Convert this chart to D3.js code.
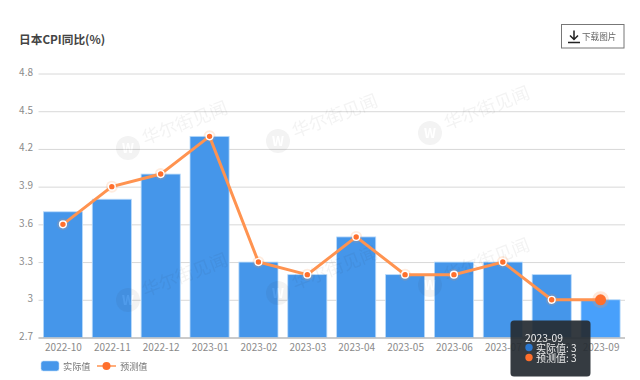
<!DOCTYPE html>
<html><head><meta charset="utf-8">
<script src="https://cdnjs.cloudflare.com/ajax/libs/d3/7.8.5/d3.min.js"></script>
<style>html,body{margin:0;padding:0;background:#fff}svg{display:block}text{font-family:"Noto Sans CJK SC","Noto Sans",sans-serif}</style>
</head><body><svg id="c" width="640" height="380"></svg>
<script>
const titleText = "日本CPI同比(%)";
const buttonText = "下载图片";
const categories = ["2022-10","2022-11","2022-12","2023-01","2023-02","2023-03","2023-04","2023-05","2023-06","2023-07","2023-08","2023-09"];
const actualValues = [3.7,3.8,4.0,4.3,3.3,3.2,3.5,3.2,3.3,3.3,3.2,3.0];
const forecastValues = [3.6,3.9,4.0,4.3,3.3,3.2,3.5,3.2,3.2,3.3,3.0,3.0];
const yTicks = [2.7,3,3.3,3.6,3.9,4.2,4.5,4.8];
const seriesNames = ["实际值","预测值"];
const watermarkSpots = [[128,148],[278,141],[430,133],[128,300],[278,293],[430,285]];

const svg = d3.select("#c");
const x = d3.scaleBand().domain(categories).range([38.5,625]).paddingInner(0.2).paddingOuter(0.1);
const xp = d3.scalePoint().domain(categories).range([38.5+24.44,625-24.44]);
const y = d3.scaleLinear().domain([2.7,4.8]).range([337.5,73.5]);
const BLUE="#4596ea", ORANGE="#ff9350", DOT="#ff6f2c";

svg.append("text").attr("x",19).attr("y",44).attr("font-size",11.7).attr("font-weight",700).attr("fill","#444").text(titleText);

// grid + y axis
const ya = svg.append("g").attr("transform","translate(38.5,0)")
  .call(d3.axisLeft(y).tickValues(yTicks).tickFormat(d3.format("~g")).tickSize(-586.5).tickPadding(6));
ya.select(".domain").remove();
ya.selectAll("line").attr("stroke","#d8d8d8").attr("stroke-width",1);
ya.selectAll("text").attr("fill","#8a8a8a").attr("font-size",10).attr("x",-5.5).attr("dy","0.2em");

// bars
const last = categories[categories.length-1];
svg.append("g").selectAll("rect").data(categories).join("rect")
  .attr("x",d=>x(d)).attr("width",x.bandwidth())
  .attr("y",(d,i)=>y(actualValues[i])).attr("height",(d,i)=>y(2.7)-y(actualValues[i]))
  .attr("fill",d=>d===last?"#48a0fb":BLUE).attr("stroke","#b9dafa").attr("stroke-width",0.8);

// x axis
const xa = svg.append("g").attr("transform","translate(0,337.5)")
  .call(d3.axisBottom(xp).tickSize(0).tickPadding(6));
xa.select(".domain").attr("stroke","#aaa").attr("d","M38.5,0.5H625");
xa.selectAll("text").attr("fill","#8a8a8a").attr("font-size",10);

// watermark
const wm = svg.append("g").attr("opacity",0.055);
watermarkSpots.forEach(([a,b])=>{
  const g = wm.append("g").attr("transform",`translate(${a},${b})`);
  g.append("circle").attr("r",12).attr("fill","#333");
  g.append("text").attr("x",0).attr("y",2).attr("text-anchor","middle").attr("font-size",13).attr("font-weight",700).attr("fill","#fff").attr("dy","0.25em").text("W");
  g.append("text").attr("transform","translate(17,-3) rotate(-21)").attr("font-size",18).attr("fill","#333").text("华尔街见闻");
});

// line
svg.append("path").datum(forecastValues)
  .attr("d",d3.line().x((d,i)=>xp(categories[i])).y(d=>y(d)))
  .attr("fill","none").attr("stroke",ORANGE).attr("stroke-width",3);
const nPts = forecastValues.length;
svg.append("g").selectAll("circle").data(forecastValues).join("circle")
  .attr("cx",(d,i)=>xp(categories[i])).attr("cy",d=>y(d))
  .attr("r",(d,i)=>i===nPts-1?0:6).attr("fill","#ff9350").attr("opacity",0.18);
svg.append("g").selectAll("circle").data(forecastValues).join("circle")
  .attr("cx",(d,i)=>xp(categories[i])).attr("cy",d=>y(d))
  .attr("r",(d,i)=>i===nPts-1?0:3.4)
  .attr("fill",DOT).attr("stroke","#fff").attr("stroke-width",1.4);
const hx = xp(last), hy = y(forecastValues[nPts-1]);
svg.append("circle").attr("cx",hx).attr("cy",hy).attr("r",8.5).attr("fill","#ff9350").attr("opacity",0.22);
svg.append("circle").attr("cx",hx).attr("cy",hy).attr("r",5.5).attr("fill",DOT);

// legend
svg.append("rect").attr("x",41).attr("y",361).attr("width",18).attr("height",10).attr("rx",2.5).attr("fill",BLUE).attr("stroke","#b9dafa").attr("stroke-width",0.6);
svg.append("text").attr("x",63).attr("y",369.5).attr("font-size",9.2).attr("fill","#777").text(seriesNames[0]);
svg.append("line").attr("x1",97).attr("x2",116).attr("y1",366).attr("y2",366).attr("stroke",ORANGE).attr("stroke-width",1.5);
svg.append("circle").attr("cx",106.5).attr("cy",366).attr("r",4).attr("fill",DOT);
svg.append("text").attr("x",120).attr("y",369.5).attr("font-size",9.2).attr("fill","#777").text(seriesNames[1]);

// button
svg.append("rect").attr("x",561.5).attr("y",24.5).attr("width",62.5).attr("height",23.5).attr("fill","#fff").attr("stroke","#777").attr("stroke-width",1);
svg.append("path").attr("d","M574 30.5V39M570 35.5L574 39.5L578 35.5M568 42.5H580").attr("fill","none").attr("stroke","#222").attr("stroke-width",1.5);
svg.append("text").attr("x",582).attr("y",40).attr("font-size",8.6).attr("fill","#666").text(buttonText);

// tooltip
const tt = svg.append("g");
tt.append("rect").attr("x",510.5).attr("y",320.5).attr("width",80).attr("height",56).attr("rx",3.5).attr("fill","#262c33").attr("fill-opacity",0.93);
tt.append("text").attr("x",525).attr("y",342).attr("font-size",10.3).attr("fill","#eee").text(last);
tt.append("circle").attr("cx",529).attr("cy",347.5).attr("r",3.7).attr("fill","#2a77d0");
tt.append("text").attr("x",536).attr("y",352).attr("font-size",10).attr("fill","#eee").text(seriesNames[0]+": "+d3.format("~g")(actualValues[11]));
tt.append("circle").attr("cx",529).attr("cy",357.5).attr("r",3.7).attr("fill",DOT);
tt.append("text").attr("x",536).attr("y",362).attr("font-size",10).attr("fill","#eee").text(seriesNames[1]+": "+d3.format("~g")(forecastValues[11]));
</script></body></html>
